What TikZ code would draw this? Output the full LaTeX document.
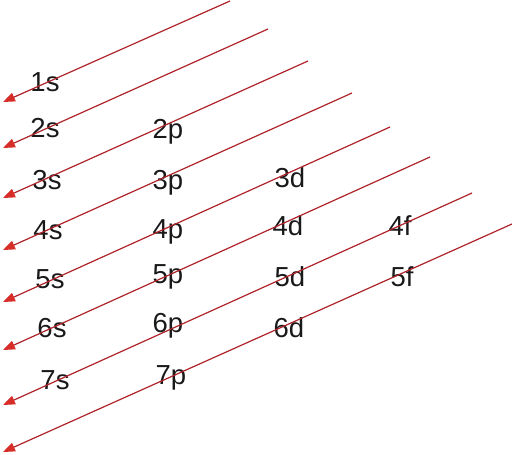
\documentclass[tikz,border=0pt]{standalone}
\usepackage{fontspec}
\setmainfont{Liberation Sans}
\usetikzlibrary{arrows.meta}
\definecolor{linered}{RGB}{175,35,40}
\definecolor{tipred}{RGB}{215,45,40}

\begin{document}
\begin{tikzpicture}[x=1pt,y=-1pt,
    orb/.style={font=\fontsize{27.5}{30}\selectfont,text=black!90,inner sep=0pt},
    diag/.style={draw=linered,line width=1.2pt,-{Triangle[length=12pt,width=9pt,color=tipred]}}]
\useasboundingbox (0,0) rectangle (512,455);
% orbital labels
\foreach \name/\x/\y in {1s/45/82, 2s/45/128, 2p/168/132,
    3s/47/180, 3p/168/183, 3d/290/178,
    4s/48/230, 4p/168/232, 4d/288/226, 4f/400/226,
    5s/50/279, 5p/168/277, 5d/290/277, 5f/402/277,
    6s/52/328, 6p/168/326, 6d/289/328,
    7s/55/380, 7p/171/378}
  \node[orb] (o\name) at (\x,\y) {\name};
% diagonal arrows
\foreach \i/\xs/\ys/\ye in {1/230/1/102, 2/268/29/148, 3/308/61/198, 4/352/93/250,
    5/390/127/302, 6/430/157/350, 7/472/193/405, 8/512/224/452} {
  \coordinate (s\i) at (\xs,\ys);
  \coordinate (e\i) at (3,\ye);
  \draw[diag] (s\i) -- (e\i);
}
\end{tikzpicture}
\end{document}
